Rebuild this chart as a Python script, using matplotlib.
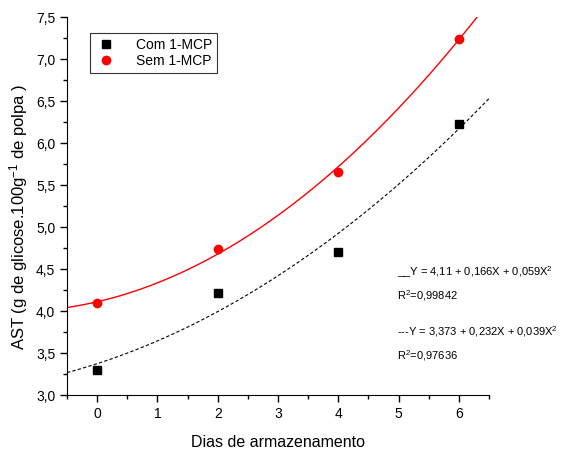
import matplotlib
matplotlib.use('Agg')
import matplotlib.pyplot as plt
import numpy as np
from matplotlib.ticker import MultipleLocator, FuncFormatter

plt.rcParams['font.family'] = ['Liberation Sans', 'DejaVu Sans']
plt.rcParams['mathtext.fontset'] = 'custom'
plt.rcParams['mathtext.rm'] = 'Liberation Sans'
plt.rcParams['mathtext.it'] = 'Liberation Sans:italic'
plt.rcParams['mathtext.default'] = 'regular'

# dias de armazenamento e AST medidos
dias = [0, 2, 4, 6]
com_mcp = [3.30, 4.21, 4.70, 6.23]
sem_mcp = [4.09, 4.74, 5.65, 7.24]

# coeficientes das regressoes quadraticas (a + bX + cX^2)
coef_sem = [4.11, 0.166, 0.059]
coef_com = [3.373, 0.232, 0.039]

fig = plt.figure(figsize=(5.65, 4.5), dpi=100)
ax = fig.add_axes([0.1186, 0.1222, 0.7469, 0.84])

xx = np.linspace(-0.5, 6.5, 200)
ax.plot(xx, coef_sem[0] + coef_sem[1]*xx + coef_sem[2]*xx**2, '-', color='red', lw=1)
ax.plot(xx, coef_com[0] + coef_com[1]*xx + coef_com[2]*xx**2, '--', color='black', lw=0.8, dashes=(3, 2))
ax.plot(dias, com_mcp, 's', color='black', ms=6, label='Com 1-MCP')
ax.plot(dias, sem_mcp, 'o', color='red', ms=6, label='Sem 1-MCP')

ax.set_xlim(-0.5, 6.5)
ax.set_ylim(3.0, 7.5)
ax.xaxis.set_major_locator(MultipleLocator(1))
ax.xaxis.set_minor_locator(MultipleLocator(0.5))
ax.yaxis.set_major_locator(MultipleLocator(0.5))
ax.yaxis.set_minor_locator(MultipleLocator(0.25))
ax.yaxis.set_major_formatter(FuncFormatter(lambda v, p: ('%.1f' % v).replace('.', ',')))
ax.spines['top'].set_visible(False)
ax.spines['right'].set_visible(False)
ax.tick_params(which='major', direction='out', length=5, width=1, labelsize=10)
ax.tick_params(which='minor', direction='out', length=3, width=1)

ax.set_xlabel('Dias de armazenamento', fontsize=11.5, labelpad=10)
ax.set_ylabel('AST (g de glicose.100g$^{-1}$ de polpa )', fontsize=12)
ax.yaxis.set_label_coords(-0.088, 0.47)

leg = ax.legend(loc='upper left', bbox_to_anchor=(0.037, 0.975), fontsize=10,
                frameon=True, fancybox=False, edgecolor='black', handletextpad=1.4,
                borderpad=0.35, labelspacing=0.15, handlelength=1.6)
leg.get_frame().set_linewidth(0.8)

ax.text(0.782, 0.315, '__Y = 4,11 + 0,166X + 0,059X$^2$', transform=ax.transAxes, fontsize=8)
ax.text(0.782, 0.252, 'R$^2$=0,99842', transform=ax.transAxes, fontsize=8)
ax.text(0.782, 0.158, '---Y = 3,373 + 0,232X + 0,039X$^2$', transform=ax.transAxes, fontsize=8)
ax.text(0.782, 0.095, 'R$^2$=0,97636', transform=ax.transAxes, fontsize=8)

plt.savefig('out.png', dpi=100)
plt.close('all')
